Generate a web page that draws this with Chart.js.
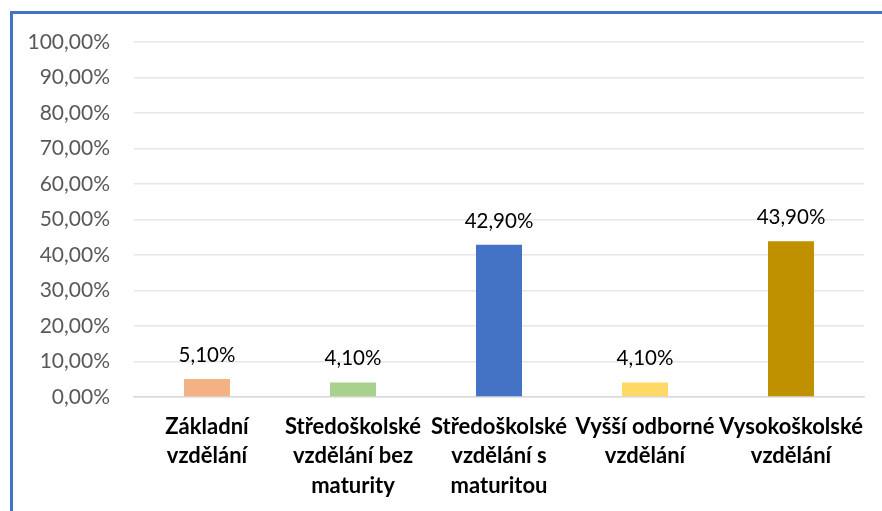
<!DOCTYPE html>
<html><head><meta charset="utf-8">
<script src="https://cdn.jsdelivr.net/npm/chart.js@4"></script>
<style>
html,body{margin:0;padding:0;background:#fff;}
#wrap{position:relative;width:882px;height:511px;overflow:hidden;}
#frame{position:absolute;left:10px;top:11px;width:900px;height:600px;border-left:3px solid #4472C4;border-top:3px solid #4472C4;box-sizing:border-box;}
canvas{position:absolute;left:0;top:0;}
</style></head><body>
<div id="wrap"><div id="frame"></div><canvas id="c" width="882" height="511"></canvas></div>
<script>
const categories = [
  ["Základní","vzdělání"],
  ["Středoškolské","vzdělání bez","maturity"],
  ["Středoškolské","vzdělání s","maturitou"],
  ["Vyšší odborné","vzdělání"],
  ["Vysokoškolské","vzdělání"]
];
const values = [5.1, 4.1, 42.9, 4.1, 43.9];
const barColors = ["#F4B183","#A9D18E","#4472C4","#FFD966","#BF9000"];
const yMin = 0, yMax = 100, yStep = 10;

const fmt = v => v.toFixed(2).replace('.', ',') + '%';
const FONT = "Lato, 'Open Sans', 'Liberation Sans', sans-serif";

const labelPlugin = {
  id: 'valueLabels',
  afterDatasetsDraw(chart) {
    const ctx = chart.ctx;
    const meta = chart.getDatasetMeta(0);
    ctx.save();
    ctx.font = "20.5px " + FONT;
    ctx.fillStyle = "#000";
    ctx.textAlign = "center";
    ctx.textBaseline = "alphabetic";
    meta.data.forEach((bar, i) => {
      ctx.fillText(fmt(values[i]), bar.x, bar.y - 17);
    });
    ctx.restore();
  }
};

new Chart(document.getElementById('c'), {
  type: 'bar',
  data: {
    labels: categories,
    datasets: [{ data: values, backgroundColor: barColors, categoryPercentage: 1, barPercentage: 0.315 }]
  },
  options: {
    responsive: false,
    animation: false,
    events: [],
    plugins: { legend: { display: false }, tooltip: { enabled: false } },
    layout: { padding: { left: 0, right: 18, top: 42, bottom: 0 } },
    scales: {
      x: {
        grid: { display: false, drawTicks: false },
        border: { display: true, color: "#d9d9d9", width: 1.5 },
        ticks: { color: "#000", font: { family: FONT, size: 22, weight: 'bold', lineHeight: 1.34 }, padding: 15, maxRotation: 0, autoSkip: false },
        afterFit(s) { s.height = 114; }
      },
      y: {
        min: yMin, max: yMax,
        grid: { color: "#e6e6e6", lineWidth: 1.5, drawTicks: false },
        border: { display: false },
        ticks: { stepSize: yStep, color: "#595959", font: { family: FONT, size: 21 }, padding: 24, callback: v => fmt(v) },
        afterFit(s) { s.width = 134; }
      }
    }
  },
  plugins: [labelPlugin]
});
</script>
</body></html>
